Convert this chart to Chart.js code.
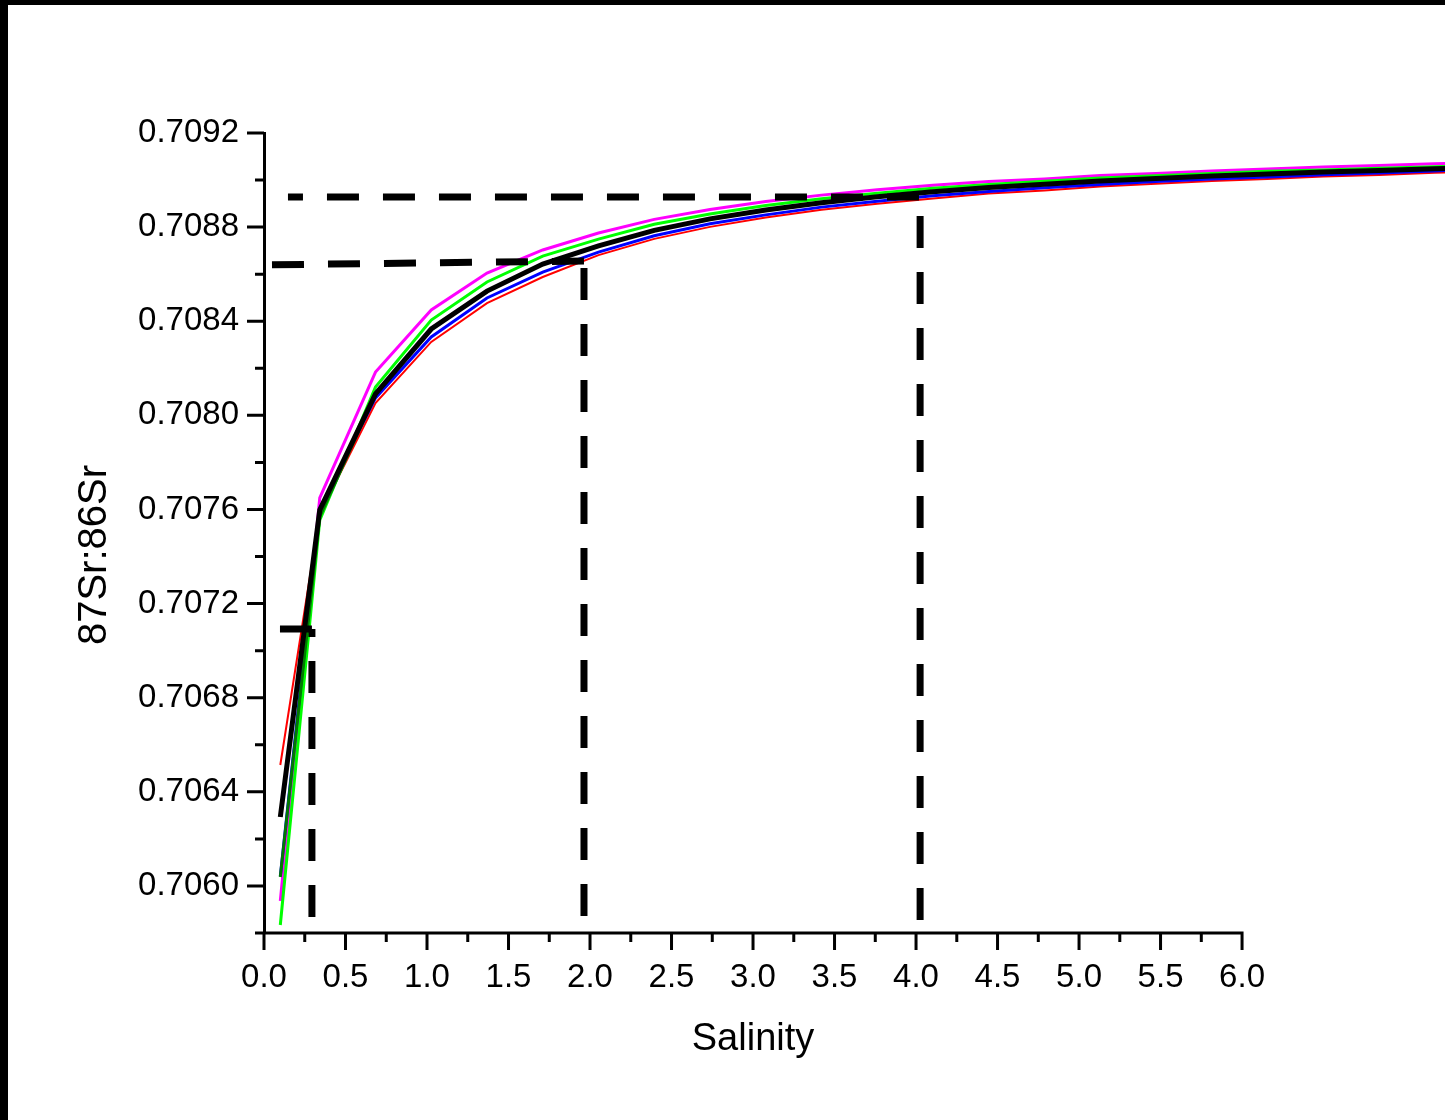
<!DOCTYPE html>
<html>
<head>
<meta charset="utf-8">
<script src="https://cdn.jsdelivr.net/npm/chart.js@4"></script>
<style>
  body { margin: 0; background: #fff; }
  #wrap { position: absolute; left: 0; top: 0; width: 1445px; height: 1120px; }
  #frame { position: absolute; left: 0; top: 0; width: 1445px; height: 1120px;
           border-top: 5px solid #000; border-left: 8px solid #000; box-sizing: border-box; pointer-events: none; }
</style>
</head>
<body>
<div id="wrap"><canvas id="chart" width="1445" height="1120"></canvas></div>
<div id="frame"></div>
<script>
// salinity steps of the mixing model
const salinity = [0.1, 0.342, 0.684, 1.026, 1.368, 1.71, 2.052, 2.394, 2.736, 3.078, 3.42, 3.762,
                  4.104, 4.446, 4.788, 5.13, 5.472, 5.814, 6.156, 6.498, 6.84, 7.182, 7.524];

// 87Sr/86Sr curves
const redCurve = [0.706514, 0.707581, 0.708052, 0.708312, 0.708477, 0.708588, 0.708681, 0.708750, 0.708801, 0.708841, 0.708874, 0.708899,
                  0.708922, 0.708943, 0.708956, 0.708973, 0.708984, 0.708996, 0.709005, 0.709015, 0.709022, 0.709031, 0.709037];
const blackCurve = [0.706293, 0.707598, 0.708091, 0.708367, 0.708528, 0.708643, 0.708720, 0.708786, 0.708835, 0.708873, 0.708904, 0.708929,
                    0.708950, 0.708968, 0.708982, 0.708996, 0.709007, 0.709017, 0.709026, 0.709034, 0.709041, 0.709048, 0.709054];
const blueCurve = [0.706040, 0.707606, 0.708074, 0.708333, 0.708499, 0.708609, 0.708694, 0.708763, 0.708814, 0.708852, 0.708885, 0.708910,
                   0.708933, 0.708951, 0.708967, 0.708981, 0.708994, 0.709004, 0.709013, 0.709023, 0.709030, 0.709039, 0.709045];
const darkGreenCurve = [0.706038, 0.707570, 0.708091, 0.708367, 0.708528, 0.708643, 0.708720, 0.708786, 0.708835, 0.708873, 0.708904, 0.708929,
                        0.708950, 0.708968, 0.708982, 0.708996, 0.709007, 0.709017, 0.709026, 0.709034, 0.709041, 0.709048, 0.709054];
const greenCurve = [0.705834, 0.707555, 0.708120, 0.708405, 0.708567, 0.708677, 0.708749, 0.708812, 0.708856, 0.708892, 0.708921, 0.708944,
                    0.708965, 0.708981, 0.708995, 0.709009, 0.709018, 0.709028, 0.709037, 0.709043, 0.709050, 0.709057, 0.709063];
const magentaCurve = [0.705936, 0.707649, 0.708184, 0.708448, 0.708605, 0.708703, 0.708775, 0.708833, 0.708875, 0.708909, 0.708936, 0.708959,
                      0.708978, 0.708994, 0.709005, 0.709019, 0.709028, 0.709038, 0.709047, 0.709055, 0.709062, 0.709069, 0.709075];

// dashed guide lines: [salinity start, end] and [ratio start, end]
const guideUpperX = [0.147, 4.03];   const guideUpperY = [0.708928, 0.708928];
const guideLowerX = [0.049, 1.963];  const guideLowerY = [0.708640, 0.708656];
const guideV2X = [1.963, 1.963];     const guideV2Y = [0.705872, 0.708626];
const guideV4X = [4.025, 4.025];     const guideV4Y = [0.705855, 0.708915];
const guideV03X = [0.294, 0.294];    const guideV03Y = [0.705868, 0.707092];
const guideShortX = [0.098, 0.294];  const guideShortY = [0.707092, 0.707092];

// ticks
const xTickValues = [0, 0.25, 0.5, 0.75, 1, 1.25, 1.5, 1.75, 2, 2.25, 2.5, 2.75, 3, 3.25, 3.5, 3.75, 4, 4.25, 4.5, 4.75, 5, 5.25, 5.5, 5.75, 6];
const xTickLabels = ['0.0', '', '0.5', '', '1.0', '', '1.5', '', '2.0', '', '2.5', '', '3.0', '', '3.5', '', '4.0', '', '4.5', '', '5.0', '', '5.5', '', '6.0'];
const yTickValues = [0.7058, 0.7060, 0.7062, 0.7064, 0.7066, 0.7068, 0.7070, 0.7072, 0.7074, 0.7076, 0.7078, 0.7080,
                     0.7082, 0.7084, 0.7086, 0.7088, 0.7090, 0.7092];
const yTickLabels = ['', '0.7060', '', '0.7064', '', '0.7068', '', '0.7072', '', '0.7076', '', '0.7080',
                     '', '0.7084', '', '0.7088', '', '0.7092'];
const xTitle = 'Salinity';
const yTitle = '87Sr:86Sr';

const fontFamily = "'Liberation Sans', Arial, sans-serif";

function pts(xs, ys) {
    return xs.map((x, i) => ({x: x, y: ys[i]}));
}

function curve(values, color, width) {
    return {
        data: pts(salinity, values),
        borderColor: color,
        borderWidth: width,
        pointRadius: 0,
        tension: 0
    };
}

function guide(xs, ys, offset) {
    return {
        data: pts(xs, ys),
        borderColor: '#000',
        borderWidth: 7,
        borderDash: [32, 24],
        borderDashOffset: offset,
        borderCapStyle: 'butt',
        pointRadius: 0,
        tension: 0
    };
}

// axis line, Origin-style outward ticks and the two axis titles
// (the plot runs past 6.0 to the page edge, the axis itself stops at 6.0)
const axisDecor = {
    id: 'axisDecor',
    afterDraw(chart) {
        const c = chart.ctx;
        const xs = chart.scales.x;
        const ys = chart.scales.y;
        const y0 = ys.bottom;
        const x0 = xs.left;
        const xEnd = xs.getPixelForValue(6);
        c.save();
        c.strokeStyle = '#000';
        c.lineWidth = 3;
        c.beginPath();
        c.moveTo(x0, y0);
        c.lineTo(xEnd + 1.5, y0);
        xs.ticks.forEach((t, i) => {
            const px = xs.getPixelForValue(t.value);
            c.moveTo(px, y0);
            c.lineTo(px, y0 + (xTickLabels[i] ? 17 : 9));
        });
        ys.ticks.forEach((t, i) => {
            const py = ys.getPixelForValue(t.value);
            c.moveTo(x0, py);
            c.lineTo(x0 - (yTickLabels[i] ? 17 : 9), py);
        });
        c.stroke();

        c.fillStyle = '#000';
        c.textAlign = 'center';
        c.textBaseline = 'middle';
        c.font = '38px ' + fontFamily;
        c.fillText(xTitle, (x0 + xEnd) / 2, 1040);
        c.translate(95, 555);
        c.rotate(-Math.PI / 2);
        c.font = '40px ' + fontFamily;
        c.fillText(yTitle, 0, 0);
        c.restore();
    }
};

const ctx = document.getElementById('chart').getContext('2d');
const myChart = new Chart(ctx, {
    type: 'line',
    data: {
        datasets: [
            guide(guideUpperX, guideUpperY, 17),
            guide(guideLowerX, guideLowerY, 0),
            guide(guideV2X, guideV2Y, 0),
            guide(guideV4X, guideV4Y, 0),
            guide(guideV03X, guideV03Y, 0),
            guide(guideShortX, guideShortY, 0),
            curve(blackCurve, '#000000', 5),
            curve(darkGreenCurve, '#007a00', 3),
            curve(blueCurve, '#0000ff', 3),
            curve(greenCurve, '#00ff00', 3),
            curve(magentaCurve, '#ff00ff', 3),
            curve(redCurve, '#ff0000', 2)
        ]
    },
    options: {
        responsive: false,
        animation: false,
        layout: {padding: {top: 133, right: 0, left: 0, bottom: 0}},
        plugins: {legend: {display: false}, tooltip: {enabled: false}},
        scales: {
            x: {
                type: 'linear',
                min: 0,
                max: 7.245,
                afterBuildTicks: scale => { scale.ticks = xTickValues.map(v => ({value: v})); },
                afterFit: scale => { scale.height = 187; },
                grid: {display: false, drawTicks: true, tickLength: 17},
                border: {display: false},
                ticks: {
                    autoSkip: false,
                    maxRotation: 0,
                    padding: 8,
                    color: '#000',
                    font: {family: fontFamily, size: 33},
                    callback: (v, i) => xTickLabels[i]
                }
            },
            y: {
                type: 'linear',
                min: 0.7058,
                max: 0.7092,
                afterBuildTicks: scale => { scale.ticks = yTickValues.map(v => ({value: v})); },
                afterFit: scale => { scale.width = 264; },
                grid: {display: false, drawTicks: true, tickLength: 17},
                border: {display: true, color: '#000', width: 3},
                ticks: {
                    autoSkip: false,
                    padding: 8,
                    color: '#000',
                    font: {family: fontFamily, size: 33},
                    callback: (v, i) => yTickLabels[i]
                }
            }
        }
    },
    plugins: [axisDecor]
});
</script>
</body>
</html>
